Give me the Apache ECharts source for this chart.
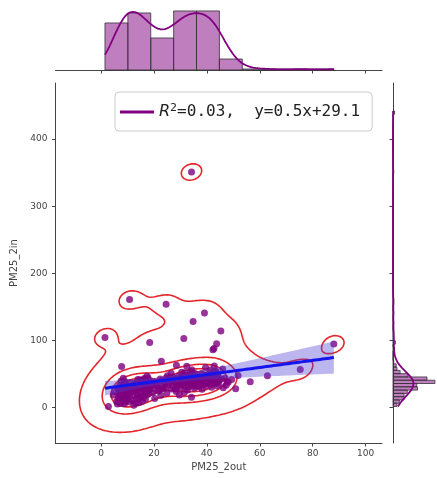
<!DOCTYPE html>
<html><head><meta charset="utf-8">
<script src="https://cdn.jsdelivr.net/npm/echarts@6/dist/echarts.min.js"></script>
<style>html,body{margin:0;padding:0;background:#fff}#c{width:437px;height:478px}</style>
</head><body><div id="c"></div>
<script>
// ---------------- data ----------------
const pm25_2out = [
  2.8,6.2,8.9, 5.9,7.4,8.8,9.7, 6.5,7.9,8.6,9.4,9.9, 4.6,7.2,8.3,9.1,9.8, 5.1,6.9,7.7,8.5,9.3,10.0, 6.4,7.5,8.2,9.0,9.6, 7.1,8.7,9.5, 7.6,9.2, 8.4, 7.8, 1.5, 12.5,
  7.3,8.1,6.7,9.6,7.0,8.9,6.6,8.0,9.8,8.9,
  12.4, 10.8,13.1,15.6, 11.5,14.2,16.8, 10.6,12.9,15.1,17.6, 10.9,12.1,13.6,14.8,16.3,18.1, 9.9,11.8,12.7,14.0,15.4,16.7,18.4, 11.2,12.5,13.8,15.0,16.1,17.3,18.6, 11.0,13.3,14.6,15.9,17.0,18.2, 13.9,16.6,17.8,15.3, 17.4, 10.8, 18.4,
  14.3,13.4,16.0,17.0,13.7,15.5,12.0,17.7,12.8,15.7,18.5,14.7,16.4,
  20.3, 22.6, 19.5,21.7,24.9, 19.8,22.1,24.3,26.6, 20.6,23.2,25.4,27.1, 21.1,23.8,25.8,27.3, 22.4,24.6,26.2, 25.1,27.0, 26.5, 24.6, 22.8,
  23.5,21.4,20.1,24.2,22.9,26.0,24.0,
  34.2,29.6, 28.4,31.5, 28.1,30.2,32.7,35.3, 28.7,29.9,31.4,32.8,34.1,35.7, 28.2,29.3,30.6,31.8,32.9,33.7,34.8,36.0, 28.6,29.8,30.9,31.9,32.6,33.5,34.4,35.2,35.9, 29.2,31.2,33.1,34.7,35.8, 31.7,33.9,35.5, 34.3, 28.5,32.4, 34.2,34.8,31.3,
  28.9,30.3,31.6,33.2,34.6,35.6,28.3,29.5,30.7,32.1,33.4,35.0,32.3,30.5,
  38.2, 37.1,39.6,41.8,43.9, 36.8,37.9,39.0,40.2,41.3,42.4,43.5,44.5, 36.5,37.4,38.3,39.1,39.9,40.7,41.5,42.1,42.9,43.6,44.2,44.6,38.7, 37.2,38.8,40.4,41.9,43.1,44.3,39.6, 38.0,40.8,42.6,44.1, 41.2,43.4, 39.5,42.8, 39.1,43.7,42.7,42.3,
  37.6,39.4,40.6,42.0,43.8,36.9,38.1,39.7,40.9,41.8,43.0,44.0,41.6,43.2,
  50.9,46.2,47.3,48.1,45.6,46.9,51.8,45.3, 47.7,49.4,46.0,
  56.4,62.9,75.3,88.0
];
const pm25_2in = [
  1.5,5.3,5.7, 9.0,10.3,7.9,10.8, 13.6,15.3,12.4,16.1,13.8, 18.7,20.4,17.9,21.0,19.3, 23.9,25.6,22.8,25.1,22.2,26.3, 29.0,30.7,27.8,30.1,27.4, 33.3,34.9,32.1, 39.5,38.2, 43.6, 61.0, 104.5, 442.0,
  6.1,11.7,15.9,18.4,20.9,23.2,26.7,28.8,31.4,37.4,
  3.2, 8.1,6.7,9.4, 11.6,13.9,12.5, 16.3,18.7,17.1,19.4, 21.8,23.9,20.5,24.3,22.6,21.2, 26.1,28.4,25.3,27.7,29.6,26.8,28.1, 31.5,33.7,30.4,32.9,34.6,31.2,33.3, 37.2,35.8,38.9,36.4,39.3,37.5, 41.6,42.8,44.1,40.7, 46.9, 161.0, 97.0,
  7.2,12.9,15.8,23.4,26.4,28.9,31.9,34.2,36.3,37.9,39.6,41.4,43.2,
  13.4, 18.2, 22.1,24.6,21.5, 27.9,26.2,29.1,27.4, 32.8,30.9,34.2,31.7, 36.3,38.6,37.1,39.4, 42.5,43.8,41.2, 47.3,45.6, 51.2, 154.0, 69.0,
  28.3,33.6,37.7,36.0,40.3,44.2,440.0,
  15.4,18.8, 23.7,22.3, 27.6,29.4,26.1,28.8, 31.2,33.8,32.5,30.6,34.4,31.9, 36.9,38.7,35.5,39.2,37.4,36.1,38.3,35.8, 41.8,43.6,40.4,44.2,42.7,40.9,43.1,41.5,44.6, 46.3,48.5,47.1,49.2,45.9, 51.8,53.1,50.7, 56.2, 63.1,61.5, 351.0,128.0,103.0,
  37.9,39.6,36.6,38.8,35.4,39.1,43.0,40.2,42.4,41.1,44.3,42.0,46.8,52.4,
  27.2, 30.9,32.6,30.1,32.2, 35.0,37.6,35.8,37.3,34.7,38.0,36.3,36.9, 39.8,42.4,39.1,41.3,43.0,40.2,41.8,38.7,42.6,40.9,39.4,42.1,40.4, 45.9,44.6,47.2,44.3,47.8,45.7,48.1, 50.8,49.9,52.3,49.4, 55.9,54.4, 59.7,61.9, 141.0,95.0,88.0,86.0,
  38.2,35.9,39.7,37.1,36.6,42.6,44.3,40.8,43.5,41.0,42.9,44.8,47.9,52.7,
  28.1,29.5,33.2,37.6,42.3,44.0,47.8,114.0, 38.9,41.8,57.3,
  38.2,47.2,56.6,94.8
];
const xTickValues = [0, 20, 40, 60, 80, 100];
const yTickValues = [0, 100, 200, 300, 400];
const xHistBinCount = 10;
const xAxisTitle = 'PM25_2out';
const yAxisTitle = 'PM25_2in';
const legendSymbol = 'R';
const legendSup = '2';
const legendRest = '=0.03,  y=0.5x+29.1';
const kdeLevelCount = 6;
const kdeThresh = 0.025;

// ---------------- helpers ----------------
const xs = pm25_2out, ys = pm25_2in, N = xs.length;
const mean = a => a.reduce((s, v) => s + v, 0) / a.length;
const sortedCopy = a => a.slice().sort((p, q) => p - q);
function pct(s, q) { const i = q * (s.length - 1), lo = Math.floor(i), hi = Math.ceil(i); return s[lo] + (s[hi] - s[lo]) * (i - lo); }
function edgesN(lo, hi, nb) { const e = []; for (let k = 0; k <= nb; k++) e.push(lo + (hi - lo) * k / nb); return e; }
function autoEdges(a) {
  const s = sortedCopy(a), n = s.length, lo = s[0], hi = s[n - 1], range = hi - lo;
  const sturges = range / (Math.log2(n) + 1);
  const fd = 2 * (pct(s, 0.75) - pct(s, 0.25)) * Math.pow(n, -1 / 3);
  const w = fd > 0 ? Math.min(fd, sturges) : sturges;
  return edgesN(lo, hi, Math.max(1, Math.ceil(range / w)));
}
function histogram(a, e) {
  const nb = e.length - 1, c = new Array(nb).fill(0), lo = e[0], hi = e[nb];
  for (const v of a) { let k = Math.floor((v - lo) / (hi - lo) * nb); if (k >= nb) k = nb - 1; if (k < 0) k = 0; c[k]++; }
  return c.map((cnt, k) => [e[k], e[k + 1], cnt]);
}
function kde1d(a, G) {
  const n = a.length, m = mean(a); let v = 0; for (const x of a) v += (x - m) * (x - m); v /= (n - 1);
  const bw = Math.sqrt(v) * Math.pow(n, -1 / 5);
  const lo = Math.min(...a), hi = Math.max(...a), c = 1 / (n * bw * Math.sqrt(2 * Math.PI)), out = [];
  for (let k = 0; k < G; k++) { const g = lo + (hi - lo) * k / (G - 1); let s = 0; for (const x of a) { const z = (g - x) / bw; s += Math.exp(-0.5 * z * z); } out.push([g, s * c]); }
  return out;
}

// ---------------- marginals ----------------
const xEdges = edgesN(Math.min(...xs), Math.max(...xs), xHistBinCount), yEdges = autoEdges(ys);
const xBins = histogram(xs, xEdges), yBins = histogram(ys, yEdges);
const xBinW = xEdges[1] - xEdges[0], yBinW = yEdges[1] - yEdges[0];
const topKde = kde1d(xs, 200).map(([g, d]) => [g, d * N * xBinW]);
const rightKde = kde1d(ys, 200).map(([g, d]) => [d * N * yBinW, g]);
const topMax = Math.max(...xBins.map(b => b[2]), ...topKde.map(p => p[1])) * 1.05;
const rightMax = Math.max(...yBins.map(b => b[2]), ...rightKde.map(p => p[0])) * 1.05;

// ---------------- regression ----------------
const mx = mean(xs), my = mean(ys);
let sxx = 0, sxy = 0, syy = 0;
for (let i = 0; i < N; i++) { const dx = xs[i] - mx, dy = ys[i] - my; sxx += dx * dx; sxy += dx * dy; syy += dy * dy; }
const slope = sxy / sxx, icpt = my - slope * mx;
let sse = 0; for (let i = 0; i < N; i++) { const r = ys[i] - (icpt + slope * xs[i]); sse += r * r; }
const sres = Math.sqrt(sse / (N - 2)), tval = 1.97;
const xMin = Math.min(...xs), xMax = Math.max(...xs);
const fitLine = [], bandUp = [], bandLo = [];
for (let k = 0; k < 100; k++) {
  const g = xMin + (xMax - xMin) * k / 99, yh = icpt + slope * g;
  const se = sres * Math.sqrt(1 / N + (g - mx) * (g - mx) / sxx);
  fitLine.push([g, yh]); bandUp.push([g, yh + tval * se]); bandLo.push([g, yh - tval * se]);
}
const bandPoly = bandUp.concat(bandLo.slice().reverse());

// ---------------- 2D KDE + contours ----------------
const G = 200;
const cxx0 = sxx / (N - 1), cyy0 = syy / (N - 1), cxy0 = sxy / (N - 1);
const fac = Math.pow(N, -1 / 6);
const cxx = cxx0 * fac * fac, cyy = cyy0 * fac * fac, cxy = cxy0 * fac * fac;
const det = cxx * cyy - cxy * cxy, ixx = cyy / det, iyy = cxx / det, ixy = -cxy / det;
const bwx = Math.sqrt(cxx), bwy = Math.sqrt(cyy);
const gx = [], gy = [];
const gx0 = xMin - 3 * bwx, gx1 = xMax + 3 * bwx, gy0 = Math.min(...ys) - 3 * bwy, gy1 = Math.max(...ys) + 3 * bwy;
for (let k = 0; k < G; k++) { gx.push(gx0 + (gx1 - gx0) * k / (G - 1)); gy.push(gy0 + (gy1 - gy0) * k / (G - 1)); }
const Z = new Float64Array(G * G);
for (let j = 0; j < G; j++) for (let i = 0; i < G; i++) {
  let s = 0;
  for (let p = 0; p < N; p++) { const dx = gx[i] - xs[p], dy = gy[j] - ys[p]; s += Math.exp(-0.5 * (ixx * dx * dx + 2 * ixy * dx * dy + iyy * dy * dy)); }
  Z[j * G + i] = s;
}
const sortedZ = Array.from(Z).sort((a, b) => b - a);
const totalZ = sortedZ.reduce((a, b) => a + b, 0);
const cumZ = []; { let c = 0; for (const v of sortedZ) { c += v; cumZ.push(c / totalZ); } }
const isoProps = []; for (let k = 0; k < kdeLevelCount; k++) isoProps.push(kdeThresh + (1 - kdeThresh) * k / (kdeLevelCount - 1));
const levels = isoProps.map(p => { const t = 1 - p; let lo = 0, hi = cumZ.length; while (lo < hi) { const m = (lo + hi) >> 1; if (cumZ[m] < t) lo = m + 1; else hi = m; } return sortedZ[Math.min(lo, sortedZ.length - 1)]; });
const zAt = (i, j) => Z[j * G + i];
const SEG = {1: [[3, 0]], 2: [[0, 1]], 3: [[3, 1]], 4: [[1, 2]], 6: [[0, 2]], 7: [[3, 2]], 8: [[2, 3]], 9: [[0, 2]], 11: [[1, 2]], 12: [[3, 1]], 13: [[0, 1]], 14: [[3, 0]]};
function traceLevel(L) {
  const pts = {}, segs = [];
  function edgePt(k, i, j) {
    let key, a, b, pa, pb;
    if (k === 0) { key = 'h' + i + '_' + j; a = zAt(i, j); b = zAt(i + 1, j); pa = [gx[i], gy[j]]; pb = [gx[i + 1], gy[j]]; }
    else if (k === 1) { key = 'v' + (i + 1) + '_' + j; a = zAt(i + 1, j); b = zAt(i + 1, j + 1); pa = [gx[i + 1], gy[j]]; pb = [gx[i + 1], gy[j + 1]]; }
    else if (k === 2) { key = 'h' + i + '_' + (j + 1); a = zAt(i, j + 1); b = zAt(i + 1, j + 1); pa = [gx[i], gy[j + 1]]; pb = [gx[i + 1], gy[j + 1]]; }
    else { key = 'v' + i + '_' + j; a = zAt(i, j); b = zAt(i, j + 1); pa = [gx[i], gy[j]]; pb = [gx[i], gy[j + 1]]; }
    if (!pts[key]) { const t = (L - a) / (b - a); pts[key] = [pa[0] + t * (pb[0] - pa[0]), pa[1] + t * (pb[1] - pa[1])]; }
    return key;
  }
  for (let j = 0; j < G - 1; j++) for (let i = 0; i < G - 1; i++) {
    const v0 = zAt(i, j), v1 = zAt(i + 1, j), v2 = zAt(i + 1, j + 1), v3 = zAt(i, j + 1);
    const idx = (v0 > L ? 1 : 0) | (v1 > L ? 2 : 0) | (v2 > L ? 4 : 0) | (v3 > L ? 8 : 0);
    if (idx === 0 || idx === 15) continue;
    let list;
    if (idx === 5 || idx === 10) {
      const hiC = (v0 + v1 + v2 + v3) / 4 > L;
      if (idx === 5) list = hiC ? [[0, 1], [2, 3]] : [[3, 0], [1, 2]];
      else list = hiC ? [[3, 0], [1, 2]] : [[0, 1], [2, 3]];
    } else list = SEG[idx];
    for (const [e1, e2] of list) segs.push([edgePt(e1, i, j), edgePt(e2, i, j)]);
  }
  const adj = new Map();
  segs.forEach((s, k) => { for (const key of s) { if (!adj.has(key)) adj.set(key, []); adj.get(key).push(k); } });
  const used = new Uint8Array(segs.length), chains = [];
  for (let s = 0; s < segs.length; s++) {
    if (used[s]) continue; used[s] = 1;
    const chain = [segs[s][0], segs[s][1]];
    for (const dir of [1, -1]) {
      let cur = dir === 1 ? chain[chain.length - 1] : chain[0];
      while (true) {
        const cand = (adj.get(cur) || []).find(k => !used[k]);
        if (cand === undefined) break;
        used[cand] = 1; const [a, b] = segs[cand]; cur = a === cur ? b : a;
        if (dir === 1) chain.push(cur); else chain.unshift(cur);
      }
    }
    chains.push(chain.map(k => pts[k]));
  }
  return chains;
}
const contourLines = [];
levels.forEach(L => { if (L < sortedZ[0]) traceLevel(L).forEach(c => contourLines.push(c)); });

// ---------------- chart ----------------
const FONT = 'DejaVu Sans', AX = '#444';
const legendName = legendSymbol + legendSup + legendRest;
const chart = echarts.init(document.getElementById('c'), null, {renderer: 'canvas', width: 437, height: 478});
chart.setOption({
  animation: false,
  backgroundColor: '#fff',
  grid: [
    {left: 55.5, top: 83, width: 326.5, height: 360},
    {left: 55.5, top: 8, width: 326.5, height: 62},
    {left: 393, top: 83, width: 65, height: 360}
  ],
  xAxis: [
    {gridIndex: 0, type: 'value', min: -17.2, max: 106.2,
     axisLine: {show: true, onZero: false, lineStyle: {color: AX, width: 1}},
     axisTick: {show: true, customValues: xTickValues, length: 3.5, lineStyle: {color: AX}},
     axisLabel: {customValues: xTickValues, fontSize: 9, color: AX, fontFamily: FONT, margin: 6},
     splitLine: {show: false},
     name: xAxisTitle, nameLocation: 'middle', nameGap: 17, nameTextStyle: {fontSize: 10, color: AX, fontFamily: FONT}},
    {gridIndex: 1, type: 'value', min: -17.2, max: 106.2,
     axisLine: {show: true, onZero: false, lineStyle: {color: AX, width: 1}},
     axisTick: {show: true, customValues: xTickValues, length: 3.5, lineStyle: {color: AX}},
     axisLabel: {show: false}, splitLine: {show: false}},
    {gridIndex: 2, type: 'value', min: 0, max: rightMax, show: false, splitLine: {show: false}}
  ],
  yAxis: [
    {gridIndex: 0, type: 'value', min: -52.9, max: 483.6,
     axisLine: {show: true, onZero: false, lineStyle: {color: AX, width: 1}},
     axisTick: {show: true, customValues: yTickValues, length: 3.5, lineStyle: {color: AX}},
     axisLabel: {customValues: yTickValues, fontSize: 9, color: AX, fontFamily: FONT, margin: 8},
     splitLine: {show: false},
     name: yAxisTitle, nameLocation: 'middle', nameGap: 31, nameRotate: 90, nameTextStyle: {fontSize: 10, color: AX, fontFamily: FONT}},
    {gridIndex: 1, type: 'value', min: 0, max: topMax, show: false, splitLine: {show: false}},
    {gridIndex: 2, type: 'value', min: -52.9, max: 483.6,
     axisLine: {show: true, onZero: false, lineStyle: {color: AX, width: 1}},
     axisTick: {show: true, customValues: yTickValues, length: 3.5, lineStyle: {color: AX}},
     axisLabel: {show: false}, splitLine: {show: false}}
  ],
  legend: {
    left: 115, top: 92, z: 20, padding: [11, 12, 11, 5], itemWidth: 34, itemHeight: 3, icon: 'rect',
    borderColor: '#cccccc', borderWidth: 1, borderRadius: 4, backgroundColor: '#ffffff', selectedMode: false,
    data: [{name: legendName, icon: 'rect', itemStyle: {color: '#800080'}}],
    formatter: () => '{r|' + legendSymbol + '}{s|' + legendSup + '}{m|' + legendRest + '}',
    textStyle: {rich: {
      r: {fontFamily: FONT, fontStyle: 'italic', fontSize: 16, color: '#222', lineHeight: 18},
      s: {fontFamily: FONT, fontSize: 11, color: '#222', verticalAlign: 'top', lineHeight: 18},
      m: {fontFamily: 'DejaVu Sans Mono', fontSize: 16, color: '#222', lineHeight: 18}
    }}
  },
  series: [
    {type: 'lines', coordinateSystem: 'cartesian2d', xAxisIndex: 0, yAxisIndex: 0, polyline: true, silent: true, z: 1,
     lineStyle: {color: '#e3262b', width: 1.6, opacity: 1}, data: contourLines.map(c => ({coords: c}))},
    {type: 'scatter', xAxisIndex: 0, yAxisIndex: 0, silent: true, z: 2, symbolSize: 7,
     itemStyle: {color: '#800080', opacity: 0.8}, data: xs.map((x, i) => [x, ys[i]])},
    {type: 'custom', xAxisIndex: 0, yAxisIndex: 0, silent: true, z: 3, data: [[mx, my]],
     renderItem: (params, api) => ({type: 'polygon', shape: {points: bandPoly.map(p => api.coord(p))}, style: {fill: 'rgba(75,65,210,0.38)'}})},
    {type: 'line', name: legendName, xAxisIndex: 0, yAxisIndex: 0, silent: true, z: 4, showSymbol: false,
     lineStyle: {color: '#1414ee', width: 3}, itemStyle: {color: '#800080'}, data: fitLine},
    {type: 'custom', xAxisIndex: 1, yAxisIndex: 1, silent: true, z: 2, data: xBins, encode: {x: [0, 1], y: 2},
     renderItem: (params, api) => { const p0 = api.coord([api.value(0), 0]), p1 = api.coord([api.value(1), api.value(2)]);
       return {type: 'rect', shape: {x: p0[0], y: p1[1], width: p1[0] - p0[0], height: p0[1] - p1[1]}, style: {fill: 'rgba(128,0,128,0.5)', stroke: '#333', lineWidth: 0.8}}; }},
    {type: 'line', xAxisIndex: 1, yAxisIndex: 1, silent: true, z: 3, showSymbol: false, lineStyle: {color: '#800080', width: 1.8}, data: topKde},
    {type: 'custom', xAxisIndex: 2, yAxisIndex: 2, silent: true, z: 2, data: yBins, encode: {x: 2, y: [0, 1]},
     renderItem: (params, api) => { const p0 = api.coord([0, api.value(0)]), p1 = api.coord([api.value(2), api.value(1)]);
       return {type: 'rect', shape: {x: p0[0], y: p1[1], width: p1[0] - p0[0], height: p0[1] - p1[1]}, style: {fill: 'rgba(128,0,128,0.5)', stroke: '#333', lineWidth: 0.8}}; }},
    {type: 'line', xAxisIndex: 2, yAxisIndex: 2, silent: true, z: 3, showSymbol: false, lineStyle: {color: '#800080', width: 1.8}, data: rightKde}
  ]
});
</script>
</body></html>
